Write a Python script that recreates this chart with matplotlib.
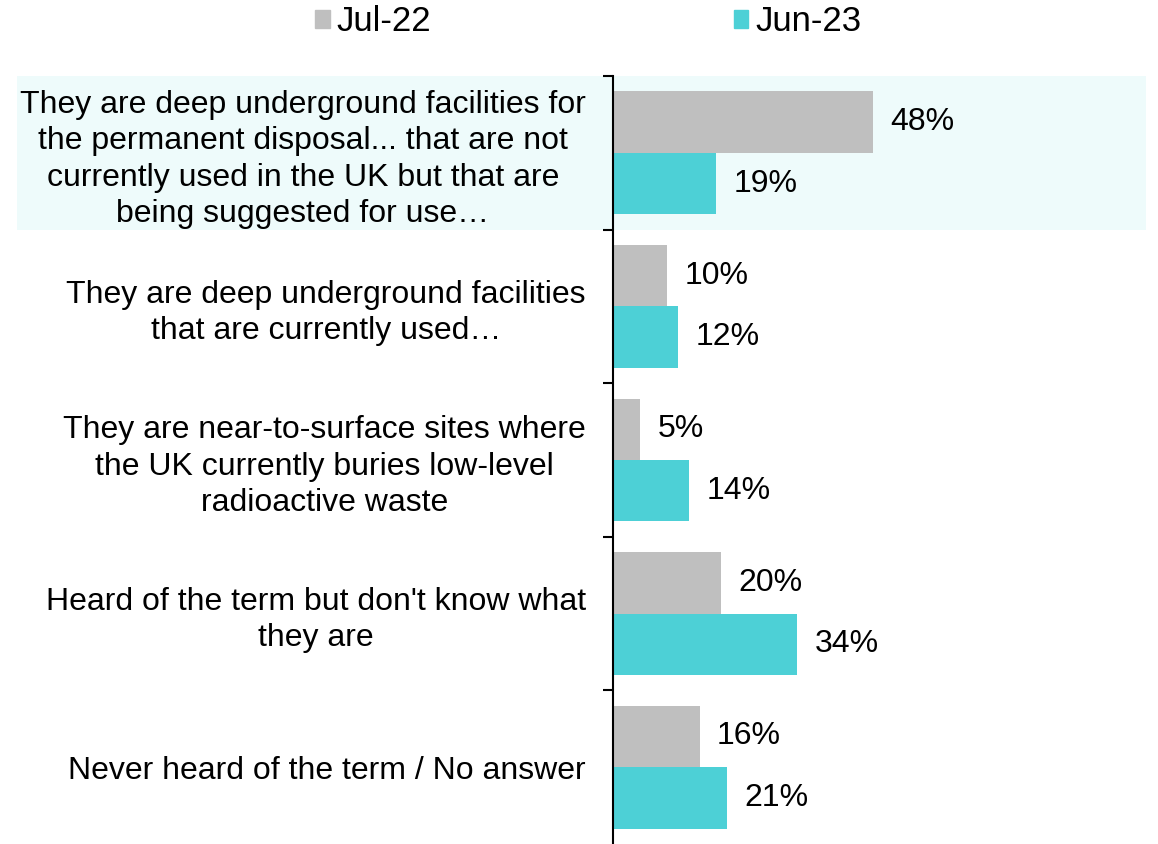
import matplotlib.pyplot as plt
from matplotlib.patches import Rectangle, Patch
from matplotlib.transforms import blended_transform_factory

plt.rcParams['font.family'] = ['Liberation Sans', 'DejaVu Sans']

categories = [
    "They are deep underground facilities for\nthe permanent disposal... that are not\ncurrently used in the UK but that are\nbeing suggested for use…",
    "They are deep underground facilities\nthat are currently used…",
    "They are near-to-surface sites where\nthe UK currently buries low-level\nradioactive waste",
    "Heard of the term but don't know what\nthey are",
    "Never heard of the term / No answer",
]
jul22 = [48, 10, 5, 20, 16]
jun23 = [19, 12, 14, 34, 21]
series_names = ["Jul-22", "Jun-23"]
colors = ["#BFBFBF", "#4DD0D6"]

fig = plt.figure(figsize=(11.58, 8.44), dpi=100)
ax = fig.add_axes([613 / 1158, 0.0, 533 / 1158, 768 / 844])
ax.patch.set_visible(False)

pos = list(range(len(categories)))
b1 = ax.barh([p - 0.2 for p in pos], jul22, height=0.4, color=colors[0], zorder=2)
b2 = ax.barh([p + 0.2 for p in pos], jun23, height=0.4, color=colors[1], zorder=2)

for bars, vals in [(b1, jul22), (b2, jun23)]:
    for bar, v in zip(bars, vals):
        ax.annotate(f"{v}%", (bar.get_width(), bar.get_y() + bar.get_height() / 2),
                    xytext=(12.5, 0), textcoords='offset points',
                    va='center', ha='left', fontsize=23)

# highlight band behind the first category
trans = blended_transform_factory(fig.transFigure, ax.transData)
ax.add_patch(Rectangle((17 / 1158, -0.5), (1146 - 17) / 1158, 1.0,
                       transform=trans, facecolor="#EEFBFB",
                       edgecolor='none', zorder=0, clip_on=False))

ax.set_xlim(0, 98.3)
ax.set_ylim(len(categories) - 0.5, -0.5)
ax.set_yticks([p + 0.5 for p in pos[:-1]] + [-0.5])
ax.set_yticklabels([])
ax.set_yticks(pos, minor=True)
ax.set_yticklabels(categories, minor=True, fontsize=23, ha='right', multialignment='center')
for lbl in ax.get_yticklabels(minor=True):
    lbl.set_linespacing(1.27)
ax.tick_params(axis='y', which='major', length=7, width=1.5, direction='out')
ax.tick_params(axis='y', which='minor', length=0, pad=19.5)
ax.xaxis.set_visible(False)
for s in ['top', 'right', 'bottom']:
    ax.spines[s].set_visible(False)
ax.spines['left'].set_linewidth(1.5)
ax.spines['left'].set_zorder(3)

handles = [Patch(color=c) for c in colors]
fig.legend(handles, series_names, loc='center', bbox_to_anchor=(0.508, 0.974),
           ncol=2, frameon=False, fontsize=25, handlelength=0.42, handleheight=0.42,
           handletextpad=0.2, columnspacing=8.7)

fig.savefig("out.png", dpi=100)
